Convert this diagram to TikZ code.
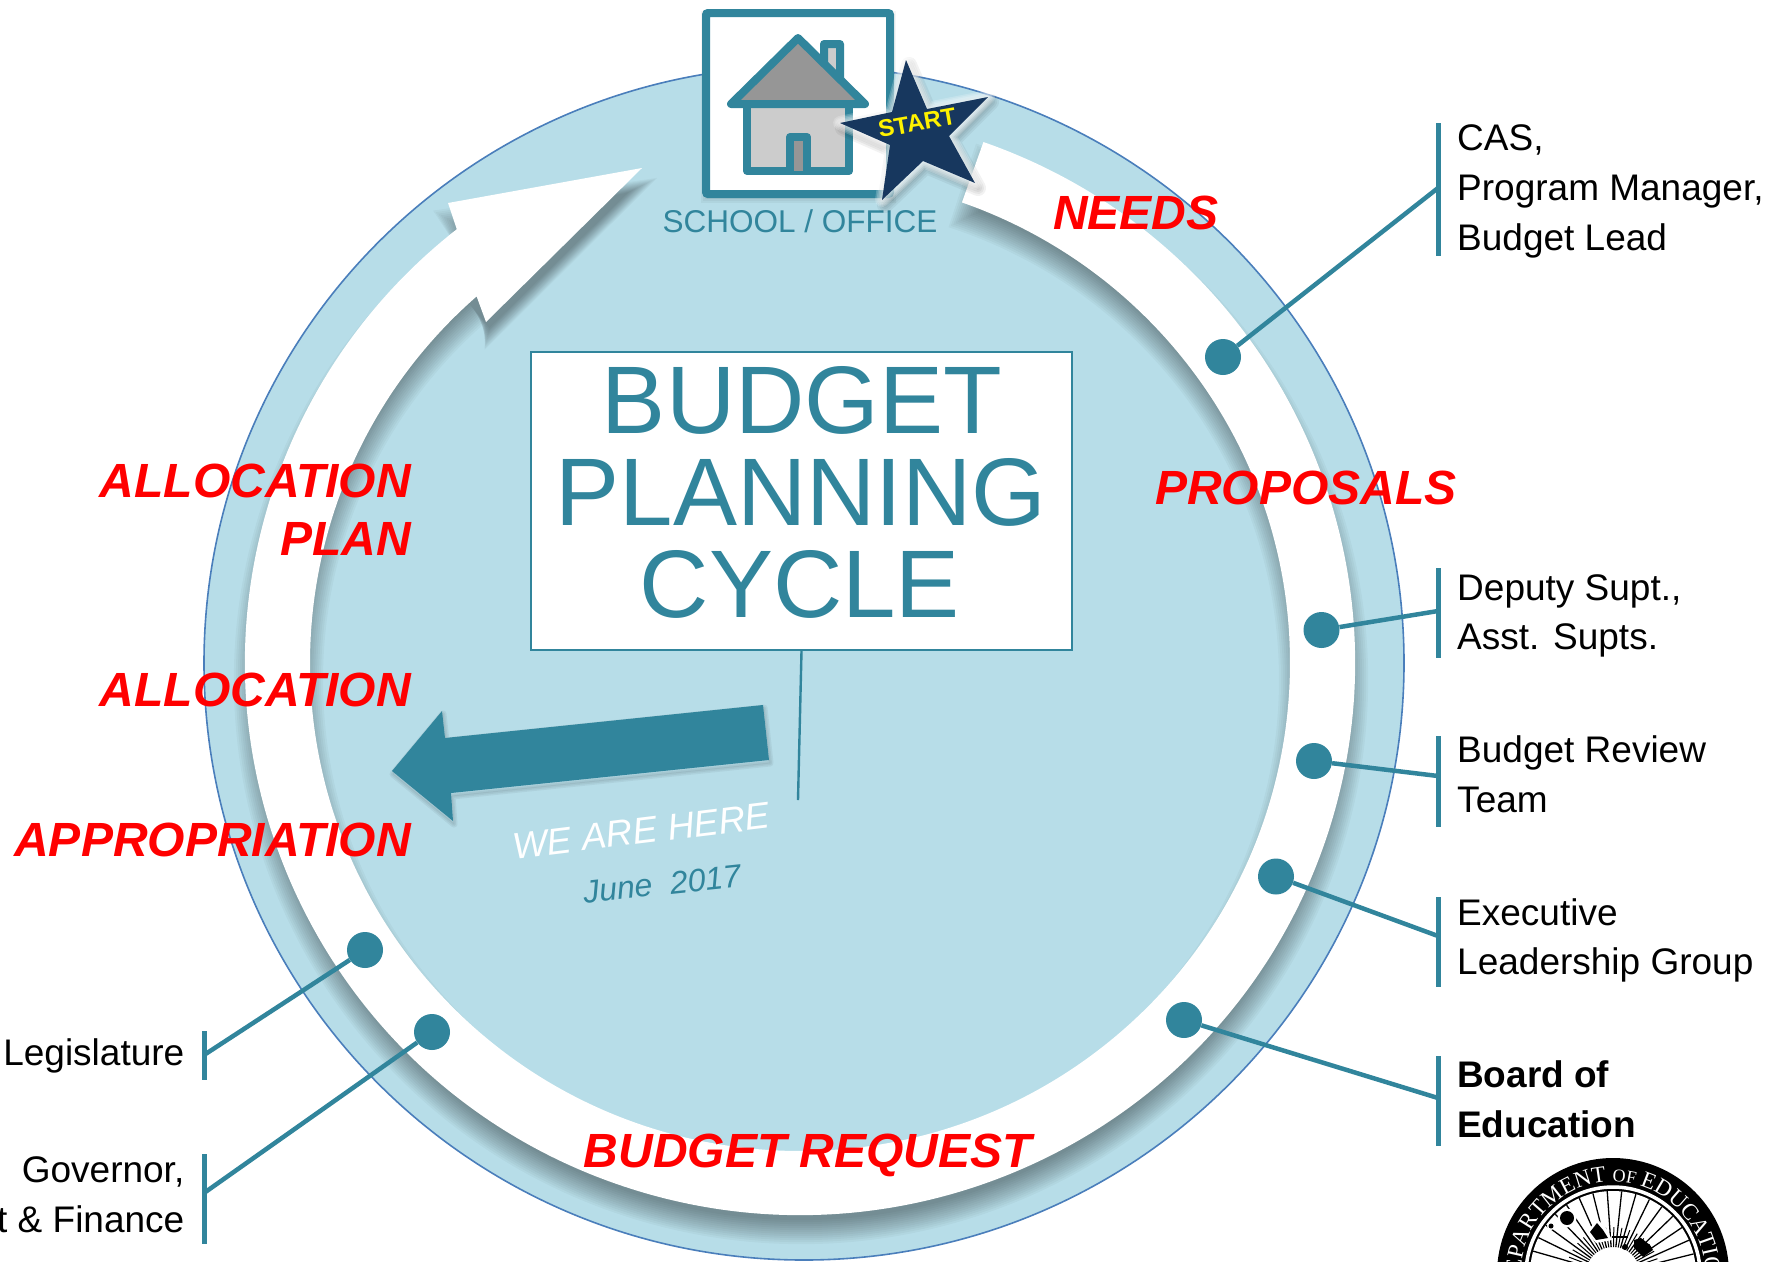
\documentclass[tikz,border=0pt]{standalone}
\usepackage{fontspec}
\setmainfont{Liberation Sans}
\newfontfamily\sealserif{Liberation Serif}
\usetikzlibrary{decorations.text}
\definecolor{teal1}{HTML}{31859C}
\definecolor{pale}{HTML}{B7DDE8}
\definecolor{rimblue}{HTML}{4A7EBB}
\definecolor{navy1}{HTML}{17375E}
\definecolor{roofgray}{HTML}{969696}
\definecolor{wallgray}{HTML}{CCCCCC}
\newcommand{\fs}[1]{\fontsize{#1}{#1}\selectfont}
% ring arrow grown by #1 on every side (used for the soft shadow layers)
\newcommand{\ringat}[1]{({800+(555+(#1))*cos(70.7+.11*(#1))},{-663+(552+(#1))*sin(70.7+.11*(#1))})
  arc[start angle={70.7+.11*(#1)},end angle=-231.8,x radius={555+(#1)},y radius={552+(#1)}]
  -- ({448-1.33*(#1)},{-203+.78*(#1)})
  -- ({642+1.2*(#1)},{-168+.6*(#1)})
  -- ({486-.2*(#1)},{-322-.9*(#1)})
  -- ({800+(490-(#1))*cos(-228.7)},{-663+(488-(#1))*sin(-228.7)})
  arc[start angle=-228.7,end angle={70.7+.11*(#1)},x radius={490-(#1)},y radius={488-(#1)}] -- cycle}
\newcommand{\starshape}{(906,-60) -- (927,-109) -- (988,-97) -- (949,-136) -- (975,-183) -- (923,-161) -- (882,-200) -- (890,-145) -- (840,-123) -- (892,-112) -- cycle}
\newcommand{\bluearrow}{(763,-705) -- (769,-760) -- (451,-793) -- (453,-821) -- (392,-771) -- (442,-711) -- (445,-738) -- cycle}
\tikzset{
  redlabel/.style={text=red,inner sep=0pt,font=\fs{48}\bfseries\itshape},
  blacklabel/.style={text=black,inner sep=0pt,align=left,anchor=west,font=\fontsize{37}{49.7}\selectfont},
  blackright/.style={text=black,inner sep=0pt,anchor=base east,font=\fs{37}},
  dotnode/.style={circle,fill=teal1,minimum size=36pt,inner sep=0pt},
  tiebar/.style={draw=teal1,line width=5pt},
  tieline/.style={draw=teal1,line width=4.5pt},
  houseline/.style={draw=teal1,line width=8pt,line join=round},
}
\begin{document}
\begin{tikzpicture}[x=1pt,y=1pt]
\useasboundingbox (0,0) rectangle (1771,-1261);
\clip (0,0) rectangle (1771,-1261);
% big disc
\fill[pale,draw=rimblue,line width=1.6pt] (804,-663) ellipse[x radius=600,y radius=597];
% ring arrow with soft shadow
\foreach \e in {-12,-10,...,12}{
  \fill[black,opacity=.03,shift={(1,-17)}] \ringat{\e};
}
\fill[white] \ringat{0};
% school / office frame
\foreach \w in {3,7,11}{
  \draw[black,opacity=.04,line width=\w pt,shift={(0,-3)}] (706,-13) rectangle (890,-194);
}
\draw[fill=white,draw=teal1,line width=8pt,rounded corners=2pt] (706,-13) rectangle (890,-194);
% house
\fill[wallgray,houseline] (824,-75) -- (824,-44) -- (840,-44) -- (840,-90) -- cycle;
\fill[wallgray,houseline] (747,-104) rectangle (849,-171);
\fill[roofgray,houseline] (798,-38) -- (731,-104) -- (865,-104) -- cycle;
\fill[roofgray,houseline] (790,-171) -- (790,-137) -- (807,-137) -- (807,-171);
\node[text=teal1,inner sep=0pt,anchor=base,font=\fs{31.5}] (office) at (800,-232) {SCHOOL / OFFICE};
% star
\foreach \w in {4,8,12,16}{
  \draw[black,opacity=.05,line width=\w pt,line join=round,shift={(3,-5)}] \starshape;
}
\foreach \w in {2,5,8,11,14}{
  \draw[white,opacity=.2,line width=\w pt,line join=round] \starshape;
}
\fill[navy1] \starshape;
\node[text=yellow,inner sep=0pt,rotate=10,font=\fs{24}\bfseries] (start) at (917,-123) {START};
% title box
\node[draw=teal1,fill=white,line width=2pt,minimum width=541pt,minimum height=298pt,inner sep=0pt,anchor=north west] (titlebox) at (530,-351) {};
\node[text=teal1,inner sep=0pt,anchor=base,font=\fs{96}] (t1) at (802,-433) {BUDGET};
\node[text=teal1,inner sep=0pt,anchor=base,font=\fs{96}] (t2) at (801,-525) {PLANNING};
\node[text=teal1,inner sep=0pt,anchor=base,font=\fs{96}] (t3) at (800,-617) {CYCLE};
\coordinate (pointer) at (798,-800);
\draw[teal1,line width=2.4pt] (titlebox.south) -- (pointer);
% here arrow
\foreach \w in {1,4,7}{
  \draw[black,opacity=.05,line width=\w pt,line join=round,shift={(1,-3)}] \bluearrow;
}
\fill[teal1] \bluearrow;
\node[text=white,inner sep=0pt,rotate=7,font=\fs{37}\itshape] (here) at (641,-831) {WE ARE HERE};
\node[text=teal1,inner sep=0pt,rotate=6,font=\fs{32}\itshape] (june) at (662,-884) {June\ \ 2017};
% red labels
\node[redlabel,anchor=base west] (needs) at (1053,-229) {NEEDS};
\node[redlabel,anchor=base west] (props) at (1155,-504) {PROPOSALS};
\node[redlabel,anchor=base east] (alloc1) at (411,-497) {ALLOCATION};
\node[redlabel,anchor=base east] (plan) at (411,-555) {PLAN};
\node[redlabel,anchor=base east] (alloc2) at (411,-706) {ALLOCATION};
\node[redlabel,anchor=base east] (approp) at (411,-856) {APPROPRIATION};
\node[redlabel,anchor=base] (request) at (808,-1167) {BUDGET REQUEST};
% right side
\node[dotnode] (d1) at (1223,-357) {};
\node[dotnode] (d2) at (1321.5,-630) {};
\node[dotnode] (d3) at (1314,-761) {};
\node[dotnode] (d4) at (1276,-876.5) {};
\node[dotnode] (d5) at (1184,-1020) {};
\coordinate (b1a) at (1438,-123); \coordinate (b1b) at (1438,-256); \coordinate (j1) at (1438,-188);
\coordinate (b2a) at (1438,-568); \coordinate (b2b) at (1438,-658); \coordinate (j2) at (1438,-611);
\coordinate (b3a) at (1438,-736); \coordinate (b3b) at (1438,-827); \coordinate (j3) at (1438,-776);
\coordinate (b4a) at (1438,-897); \coordinate (b4b) at (1438,-987); \coordinate (j4) at (1438,-936);
\coordinate (b5a) at (1438,-1056); \coordinate (b5b) at (1438,-1146); \coordinate (j5) at (1438,-1098);
\foreach \i in {1,...,5}{
  \draw[tiebar] (b\i a) -- (b\i b);
  \draw[tieline] (d\i) -- (j\i);
}
\node[blacklabel] (l1) at (1457,-191.5) {CAS,\\Program Manager,\\Budget Lead};
\node[blacklabel] (l2) at (1457,-616) {Deputy Supt.,\\Asst. Supts.};
\node[blacklabel] (l3) at (1457,-774) {Budget Review\\Team};
\node[blacklabel] (l4) at (1457,-940.5) {Executive\\Leadership Group};
\node[blacklabel,font=\fontsize{37}{49.7}\selectfont\bfseries] (l5) at (1457,-1099.5) {Board of\\Education};
% left side
\node[dotnode] (d6) at (365,-950) {};
\node[dotnode] (d7) at (432,-1032) {};
\coordinate (b6a) at (204,-1031); \coordinate (b6b) at (204,-1080); \coordinate (j6) at (204,-1055);
\coordinate (b7a) at (204,-1154); \coordinate (b7b) at (204,-1244); \coordinate (j7) at (204,-1193);
\foreach \i in {6,7}{
  \draw[tiebar] (b\i a) -- (b\i b);
  \draw[tieline] (d\i) -- (j\i);
}
\node[blackright] (l6) at (184.5,-1065) {Legislature};
\node[blackright] (l7) at (184.5,-1182) {Governor,};
\node[blackright] (l8) at (184.5,-1232) {t \& Finance};
% seal
\coordinate (seal) at (1613,-1274);
\fill[black] (seal) circle[radius=116];
\draw[white,line width=3.5pt] (seal) circle[radius=87];
\fill[white] (seal) circle[radius=83];
\foreach \a in {4,14,...,176}{
  \draw[black,line width=1.3pt] (seal) ++(\a:27) -- ++(\a:56);
}
\foreach \a in {9,19,...,176}{
  \draw[black,line width=1pt] (seal) ++(\a:27) -- ++(\a:20);
}
\fill[white] (1567,-1218) circle[radius=9.5];
\fill[black] (1567,-1218) circle[radius=7];
\fill[white] (1551,-1226) circle[radius=4];
\fill[black] (1551,-1226) circle[radius=2.5];
\fill[white] (1587,-1232) -- (1597,-1219) -- (1606,-1228) -- (1612,-1240) -- (1596,-1243) -- cycle;
\fill[black] (1590,-1232) -- (1597,-1223) -- (1603,-1230) -- (1608,-1238) -- (1596,-1240) -- cycle;
\fill[black] (1612,-1236) rectangle (1628,-1238);
\fill[black] (1625,-1247) circle[radius=3];
\fill[black] (1634,-1240) -- (1641,-1238) -- (1650,-1245) -- (1653,-1250) -- (1643,-1257) -- (1634,-1248) -- cycle;
\path[decorate,decoration={text along path,text align=center,
  text={|\color{white}\sealserif\fs{23}|DEPARTMENT |\color{white}\sealserif\fs{18}|OF |\color{white}\sealserif\fs{23}|EDUCATION}}]
  (seal) ++(179:92) arc[start angle=179,end angle=1,radius=92];
\end{tikzpicture}
\end{document}
